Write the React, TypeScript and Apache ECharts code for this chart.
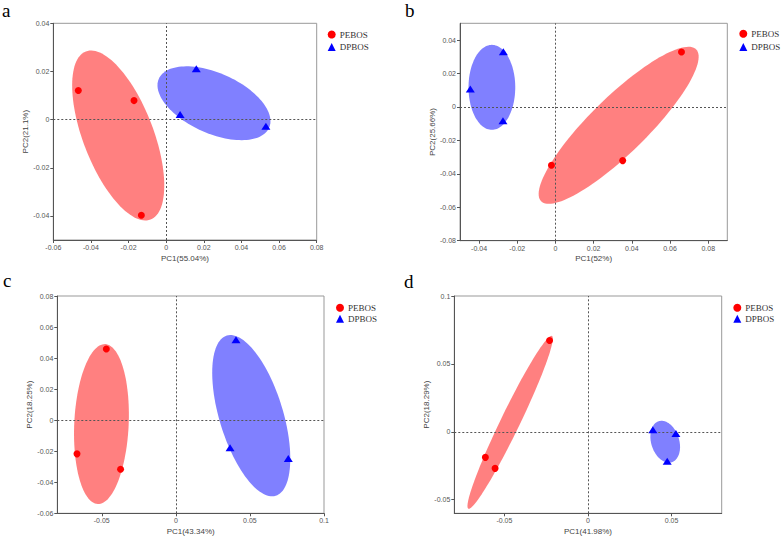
import React, { useEffect, useRef } from "react";
import * as echarts from "echarts";

// ---- data ----
const panelLabels = ["a", "b", "c", "d"];
const groupNames = ["PEBOS", "DPBOS"];
const xTitles = ["PC1(55.04%)", "PC1(52%)", "PC1(43.34%)", "PC1(41.98%)"];
const yTitles = ["PC2(21.1%)", "PC2(25.66%)", "PC2(18.25%)", "PC2(18.29%)"];

const xRanges = [[-0.06, 0.08], [-0.05, 0.09], [-0.08, 0.1], [-0.08, 0.08]];
const yRanges = [[-0.05, 0.04], [-0.08, 0.05], [-0.06, 0.08], [-0.06, 0.1]];

const xTicksA = [-0.06, -0.04, -0.02, 0, 0.02, 0.04, 0.06, 0.08];
const yTicksA = [-0.04, -0.02, 0, 0.02, 0.04];
const xTicksB = [-0.04, -0.02, 0, 0.02, 0.04, 0.06, 0.08];
const yTicksB = [-0.08, -0.06, -0.04, -0.02, 0, 0.02, 0.04];
const xTicksC = [-0.05, 0, 0.05, 0.1];
const yTicksC = [-0.06, -0.04, -0.02, 0, 0.02, 0.04, 0.06, 0.08];
const xTicksD = [-0.05, 0, 0.05];
const yTicksD = [-0.05, 0, 0.05, 0.1];

const pebosA = [[-0.0467, 0.0121], [-0.0171, 0.0079], [-0.0132, -0.0397]];
const dpbosA = [[0.016, 0.0211], [0.0074, 0.0021], [0.053, -0.0028]];
const pebosB = [[0.066, 0.0328], [0.0352, -0.0321], [-0.0021, -0.0349]];
const dpbosB = [[-0.0273, 0.033], [-0.0446, 0.0107], [-0.0275, -0.0082]];
const pebosC = [[-0.0469, 0.0458], [-0.0667, -0.0217], [-0.0373, -0.0316]];
const dpbosC = [[0.0406, 0.0518], [0.0366, -0.0178], [0.0759, -0.0247]];
const pebosD = [[-0.023, 0.0672], [-0.0614, -0.0188], [-0.0556, -0.0269]];
const dpbosD = [[0.0388, 0.0015], [0.0526, -0.0012], [0.0474, -0.0217]];

// ellipses: [centerX, centerY, majorEndX, majorEndY, minor/major ratio]
const ellipsePebos = [
  [-0.0255, -0.0066, -0.0427, 0.0283, 0.39],
  [0.0331, -0.011, 0.0737, 0.0344, 0.26],
  [-0.0502, -0.0025, -0.0477, 0.049, 0.34],
  [-0.0466, 0.007, -0.0216, 0.0706, 0.1],
];
const ellipseDpbos = [
  [0.0254, 0.0068, -0.0039, 0.017, 0.5],
  [-0.0333, 0.0117, -0.0333, 0.0371, 0.55],
  [0.0509, 0.0029, 0.0344, 0.0545, 0.38],
  [0.0462, -0.0073, 0.0423, 0.0078, 0.65],
];

const pebosSets = [pebosA, pebosB, pebosC, pebosD];
const dpbosSets = [dpbosA, dpbosB, dpbosC, dpbosD];
const xTickSets = [xTicksA, xTicksB, xTicksC, xTicksD];
const yTickSets = [yTicksA, yTicksB, yTicksC, yTicksD];

// ---- layout / style ----
const grids = [
  { left: 53.3, top: 23.3, width: 263.4, height: 216.7 },
  { left: 460, top: 23.3, width: 267.3, height: 217.4 },
  { left: 57.3, top: 296, width: 266.7, height: 217.3 },
  { left: 454.3, top: 296, width: 267.4, height: 217.3 },
];
const legendPos = [
  { left: 327.7, top: 30, itemGap: 3.4 },
  { left: 739.3, top: 29.3, itemGap: 4.2 },
  { left: 336, top: 303.3, itemGap: 2 },
  { left: 733.3, top: 303.3, itemGap: 2 },
];
const labelPos = [
  { x: 2, y: 1 },
  { x: 405, y: 1 },
  { x: 3, y: 271 },
  { x: 404, y: 272 },
];
const yNameGaps = [24, 24, 23, 23.6];

const RED = "#ff0000";
const BLUE = "#0000ff";
const RED_FILL = "#ff8080";
const BLUE_FILL = "#8080ff";

const fmt = (v: number) => String(Number(v.toFixed(4)));

function ellipseRender(fill: string) {
  return (params: any, api: any) => {
    const c = api.coord([api.value(0), api.value(1)]);
    const e = api.coord([api.value(2), api.value(3)]);
    const r = api.value(4);
    const dx = e[0] - c[0];
    const dy = e[1] - c[1];
    const px = -dy * r;
    const py = dx * r;
    const pts: number[][] = [];
    const n = 120;
    for (let i = 0; i < n; i++) {
      const t = (i / n) * Math.PI * 2;
      const ct = Math.cos(t);
      const st = Math.sin(t);
      pts.push([c[0] + dx * ct + px * st, c[1] + dy * ct + py * st]);
    }
    return {
      type: "polygon",
      shape: { points: pts },
      style: { fill, stroke: "none" },
    };
  };
}

export default function App() {
  const ref = useRef<HTMLDivElement>(null);

  useEffect(() => {
    if (!ref.current) return;
    const chart = echarts.init(ref.current, null, { renderer: "svg" });

    const xAxis: any[] = [];
    const yAxis: any[] = [];
    const series: any[] = [];
    const legend: any[] = [];
    const graphic: any[] = [];

    for (let i = 0; i < 4; i++) {
      const axisCommon = {
        type: "value",
        splitLine: { show: false },
        axisLine: { show: true, onZero: false, lineStyle: { color: "#555", width: 1 } },
        axisTick: { show: true, inside: false, length: 3, lineStyle: { color: "#555" } },
        nameTextStyle: { fontFamily: "Liberation Sans", fontSize: 8, color: "#444" },
        nameLocation: "middle",
      };
      xAxis.push({
        ...axisCommon,
        gridIndex: i,
        min: xRanges[i][0],
        max: xRanges[i][1],
        name: xTitles[i],
        nameGap: 14,
        axisTick: { ...axisCommon.axisTick, customValues: xTickSets[i] },
        axisLabel: {
          customValues: xTickSets[i],
          formatter: (v: number) => fmt(v),
          fontFamily: "Liberation Sans",
          fontSize: 7,
          color: "#555",
          margin: 4,
        },
      });
      yAxis.push({
        ...axisCommon,
        gridIndex: i,
        min: yRanges[i][0],
        max: yRanges[i][1],
        name: yTitles[i],
        nameGap: yNameGaps[i],
        axisTick: { ...axisCommon.axisTick, customValues: yTickSets[i] },
        axisLabel: {
          customValues: yTickSets[i],
          formatter: (v: number) => fmt(v),
          fontFamily: "Liberation Sans",
          fontSize: 7,
          color: "#555",
          margin: 4,
        },
      });

      series.push({
        type: "custom",
        name: "ellipse-p-" + i,
        xAxisIndex: i,
        yAxisIndex: i,
        coordinateSystem: "cartesian2d",
        renderItem: ellipseRender(RED_FILL),
        encode: { x: [0, 2], y: [1, 3] },
        data: [ellipsePebos[i]],
        z: 1,
        silent: true,
      });
      series.push({
        type: "custom",
        name: "ellipse-d-" + i,
        xAxisIndex: i,
        yAxisIndex: i,
        coordinateSystem: "cartesian2d",
        renderItem: ellipseRender(BLUE_FILL),
        encode: { x: [0, 2], y: [1, 3] },
        data: [ellipseDpbos[i]],
        z: 1,
        silent: true,
      });
      series.push({
        type: "scatter",
        name: groupNames[0],
        xAxisIndex: i,
        yAxisIndex: i,
        symbol: "circle",
        symbolSize: 7,
        itemStyle: { color: RED, opacity: 1 },
        data: pebosSets[i],
        z: 3,
        markLine: {
          silent: true,
          symbol: ["none", "none"],
          label: { show: false },
          lineStyle: { type: [2, 2], color: "#555", width: 1 },
          data: [{ xAxis: 0 }, { yAxis: 0 }],
          z: 2,
        },
      });
      series.push({
        type: "scatter",
        name: groupNames[1],
        xAxisIndex: i,
        yAxisIndex: i,
        symbol: "triangle",
        symbolSize: [9, 7],
        itemStyle: { color: BLUE, opacity: 1 },
        data: dpbosSets[i],
        z: 3,
      });

      legend.push({
        orient: "vertical",
        left: legendPos[i].left,
        top: legendPos[i].top,
        itemGap: legendPos[i].itemGap,
        itemWidth: 8,
        itemHeight: 8,
        padding: 0,
        selectedMode: false,
        textStyle: { fontFamily: "Liberation Serif", fontSize: 9, color: "#333", padding: [0, 0, 0, -1] },
        data: [
          { name: groupNames[0], icon: "circle" },
          { name: groupNames[1], icon: "triangle" },
        ],
      });

      graphic.push({
        type: "text",
        x: labelPos[i].x,
        y: labelPos[i].y,
        style: {
          text: panelLabels[i],
          font: "19px 'Liberation Serif'",
          fill: "#000",
          textVerticalAlign: "top",
        },
      });
    }

    chart.setOption({
      animation: false,
      backgroundColor: "#fff",
      grid: grids.map((g) => ({
        ...g,
        show: true,
        borderColor: "#999",
        borderWidth: 1,
        backgroundColor: "transparent",
      })),
      xAxis,
      yAxis,
      legend,
      series,
      graphic,
    });

    return () => chart.dispose();
  }, []);

  return (
    <div
      ref={ref}
      style={{ position: "absolute", left: 0, top: 0, width: 784, height: 538 }}
    />
  );
}
